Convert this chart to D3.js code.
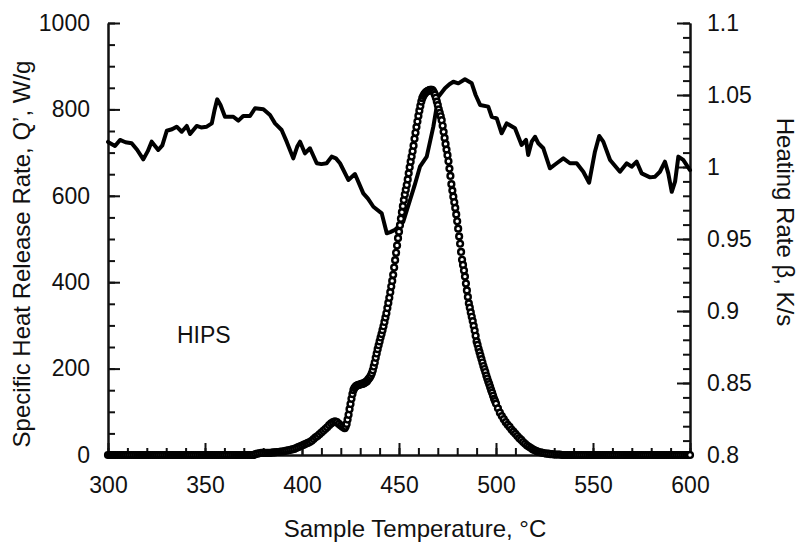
<!DOCTYPE html>
<html>
<head>
<meta charset="utf-8">
<script src="https://cdn.jsdelivr.net/npm/d3@7"></script>
<style>
  body { margin: 0; background: #fff; }
  svg text { font-family: "Liberation Sans", Arial, Helvetica, sans-serif; fill: #111; }
</style>
</head>
<body>
<div id="chart"></div>
<script>
// Tick values
const xTicks = [300, 350, 400, 450, 500, 550, 600];
const leftTicks = [0, 200, 400, 600, 800, 1000];
const rightTicks = [0.8, 0.85, 0.9, 0.95, 1, 1.05, 1.1];
const rightTickLabels = ['0.8', '0.85', '0.9', '0.95', '1', '1.05', '1.1'];

// Heating rate beta (K/s) vs sample temperature, solid line
const betaPoints = [
  [300, 1.0174], [303.6, 1.0146], [306.2, 1.0188], [309, 1.0172], [312.2, 1.0165], [315, 1.0120],
  [318.2, 1.0053], [320.5, 1.0110], [322.5, 1.0176], [325.9, 1.0118], [328, 1.0150], [330.3, 1.0252],
  [333, 1.0262], [335.4, 1.0280], [338.0, 1.0245], [340.6, 1.0285], [342.3, 1.0229], [345.7, 1.0285],
  [348, 1.0275], [350.9, 1.0280], [353.5, 1.0303], [355, 1.0400], [356.3, 1.0470], [358, 1.0430],
  [360.3, 1.0349], [364.6, 1.0349], [367.2, 1.0322], [369.7, 1.0354], [373.2, 1.0354], [375.8, 1.0408],
  [380.1, 1.0401], [383.5, 1.0361], [386.1, 1.0303], [389.5, 1.0257], [392.1, 1.0176], [395.5, 1.0060],
  [397.5, 1.0140], [399.0, 1.0176], [401.5, 1.0095], [404.1, 1.0130], [407.6, 1.0026], [410, 1.0020],
  [412.7, 1.0026], [415.3, 1.0072], [417.5, 1.0060], [419.6, 1.0026], [423.9, 0.9910], [427.3, 0.9951],
  [431.6, 0.9817], [434, 0.9780], [436.8, 0.9724], [441.1, 0.9678], [443.7, 0.9540], [445.5, 0.9548],
  [447.9, 0.9563], [452.2, 0.9620], [455.7, 0.9771], [458, 0.9870], [460.8, 1.0002], [464.3, 1.0072],
  [467.7, 1.0280], [470.3, 1.0488], [473.7, 1.0547], [476, 1.0575], [478.0, 1.0592], [480.6, 1.0581],
  [484.0, 1.0609], [487.5, 1.0581], [489.5, 1.0500], [491.8, 1.0431], [496.0, 1.0419], [497.8, 1.0349],
  [500.4, 1.0338], [502.9, 1.0234], [505.5, 1.0303], [509.8, 1.0269], [513.2, 1.0153], [515.5, 1.0188],
  [516.6, 1.0083], [518.4, 1.0176], [520.1, 1.0210], [521.8, 1.0165], [524.4, 1.0130], [527.8, 0.9991],
  [531.3, 1.0026], [534.7, 1.0060], [538.1, 1.0026], [541.6, 1.0026], [545.0, 0.9967], [548.0, 0.9891],
  [551.0, 1.0106], [553.2, 1.0215], [555.3, 1.0176], [558.8, 1.0049], [563.9, 0.9967], [567.4, 1.0026],
  [569.9, 1.0002], [572.5, 1.0037], [575.1, 0.9956], [579.4, 0.9928], [582.0, 0.9933], [584.5, 0.9967],
  [587.1, 1.0037], [588.8, 0.9956], [590.6, 0.9828], [592.3, 0.9898], [594.0, 1.0072], [596.5, 1.0049],
  [600, 0.9979]
];

// Specific heat release rate Q' (W/g) vs sample temperature, open circles
const hrrPoints = [
  [300, 0], [301, 0], [302, 0], [303, 0], [304, 0], [305, 0], [306, 0], [307, 0], [308, 0], [309, 0],
  [310, 0], [311, 0], [312, 0], [313, 0], [314, 0], [315, 0], [316, 0], [317, 0], [318, 0], [319, 0],
  [320, 0], [321, 0], [322, 0], [323, 0], [324, 0], [325, 0], [326, 0], [327, 0], [328, 0], [329, 0],
  [330, 0], [331, 0], [332, 0], [333, 0], [334, 0], [335, 0], [336, 0], [337, 0], [338, 0], [339, 0],
  [340, 0], [341, 0], [342, 0], [343, 0], [344, 0], [345, 0], [346, 0], [347, 0], [348, 0], [349, 0],
  [350, 0], [351, 0], [352, 0], [353, 0], [354, 0], [355, 0], [356, 0], [357, 0], [358, 0], [359, 0],
  [360, 0], [361, 0], [362, 0], [363, 0], [364, 0], [365, 0], [366, 0], [367, 0], [368, 0], [369, 0],
  [370, 0], [371, 0], [372, 0], [373, 0], [374, 0], [375, 0], [376, 2], [377, 3], [378, 4], [379, 5],
  [380, 5], [381, 5], [382, 5], [383, 5], [384, 5], [385, 6], [386, 6], [387, 7], [388, 7], [389, 8],
  [390, 8], [391, 9], [392, 10], [393, 11], [394, 12], [395, 13], [396, 14], [397, 16], [398, 18], [399, 20],
  [400, 22], [401, 24], [402, 26], [403, 28], [404, 30], [405, 33], [406, 37], [407, 41], [408, 44], [409, 48],
  [410, 52], [411, 56], [412, 60], [413, 64], [414, 69], [415, 73], [416, 76], [417, 78], [418, 76], [419, 72],
  [420, 68], [421, 65], [422, 62], [422.5, 66], [423, 72], [423.5, 82], [424, 93], [424.5, 106], [425, 118],
  [425.5, 130], [426, 141], [426.5, 150], [427, 155], [427.5, 158], [428, 160], [428.5, 161], [429, 162],
  [429.5, 163], [430, 163], [430.5, 164], [431, 165], [431.5, 165], [432, 166], [432.5, 168], [433, 169],
  [433.5, 171], [434, 174], [434.5, 177], [435, 180], [435.5, 184], [436, 189], [436.5, 196], [437, 205],
  [437.5, 214], [438, 225], [438.5, 235], [439, 245], [439.5, 254], [440, 263], [440.5, 272], [441, 280],
  [441.5, 289], [442, 298], [442.5, 308], [443, 318], [443.5, 328], [444, 340], [444.5, 352], [445, 364],
  [445.5, 377], [446, 390], [446.5, 403], [447, 417], [447.5, 434], [448, 451], [448.5, 468], [449, 485],
  [449.5, 502], [450, 517], [450.5, 532], [451, 547], [451.5, 562], [452, 576], [452.5, 590], [453, 603],
  [453.5, 614], [454, 625], [454.5, 638], [455, 652], [455.5, 666], [456, 679], [456.5, 691], [457, 703],
  [457.5, 716], [458, 732], [458.5, 746], [459, 759], [459.5, 772], [460, 785], [460.5, 797], [461, 808],
  [461.5, 818], [462, 826], [462.5, 831], [463, 835], [463.5, 838], [464, 840], [464.5, 842], [465, 843],
  [465.5, 844], [466, 845], [466.5, 845], [467, 845], [467.5, 843], [468, 839], [468.5, 834], [469, 827],
  [469.5, 818], [470, 810], [470.5, 800], [471, 792], [471.5, 784], [472, 775], [472.5, 762], [473, 748],
  [473.5, 734], [474, 720], [474.5, 707], [475, 694], [475.5, 680], [476, 663], [476.5, 646], [477, 627],
  [477.5, 612], [478, 598], [478.5, 585], [479, 572], [479.5, 557], [480, 541], [480.5, 524], [481, 506],
  [481.5, 489], [482, 470], [482.5, 452], [483, 440], [483.5, 427], [484, 413], [484.5, 397], [485, 381],
  [485.5, 366], [486, 351], [486.5, 341], [487, 330], [487.5, 320], [488, 310], [488.5, 299], [489, 288],
  [489.5, 276], [490, 263], [490.5, 255], [491, 246], [491.5, 238], [492, 230], [492.5, 222], [493, 214],
  [493.5, 206], [494, 199], [494.5, 192], [495, 184], [495.5, 177], [496, 170], [496.5, 164], [497, 157],
  [497.5, 150], [498, 144], [498.5, 137], [499, 130], [499.5, 125], [500, 119], [501, 108], [502, 98],
  [503, 90], [504, 83], [505, 76], [506, 70], [507, 65], [508, 59], [509, 54], [510, 49], [511, 44],
  [512, 39], [513, 35], [514, 30], [515, 26], [516, 22], [517, 19], [518, 16], [519, 13], [520, 11],
  [521, 9], [522, 7], [523, 6], [524, 5], [525, 4], [526, 3], [527, 3], [528, 2], [529, 2], [530, 1],
  [531, 1], [532, 1], [533, 1], [534, 0], [535, 0], [536, 0], [537, 0], [538, 0], [539, 0], [540, 0],
  [541, 0], [542, 0], [543, 0], [544, 0], [545, 0], [546, 0], [547, 0], [548, 0], [549, 0], [550, 0],
  [551, 0], [552, 0], [553, 0], [554, 0], [555, 0], [556, 0], [557, 0], [558, 0], [559, 0], [560, 0],
  [561, 0], [562, 0], [563, 0], [564, 0], [565, 0], [566, 0], [567, 0], [568, 0], [569, 0], [570, 0],
  [571, 0], [572, 0], [573, 0], [574, 0], [575, 0], [576, 0], [577, 0], [578, 0], [579, 0], [580, 0],
  [581, 0], [582, 0], [583, 0], [584, 0], [585, 0], [586, 0], [587, 0], [588, 0], [589, 0], [590, 0],
  [591, 0], [592, 0], [593, 0], [594, 0], [595, 0], [596, 0], [597, 0], [598, 0], [599, 0], [600, 0]
];

// Chart dimensions
const width = 801;
const height = 544;
const plot = { left: 108, right: 690, top: 23, bottom: 455 };

const svg = d3
  .select('#chart')
  .append('svg')
  .attr('width', width)
  .attr('height', height);

// Scales
const x = d3.scaleLinear().domain([300, 600]).range([plot.left, plot.right]);
const yLeft = d3.scaleLinear().domain([0, 1000]).range([plot.bottom, plot.top]);
const yRight = d3.scaleLinear().domain([0.8, 1.1]).range([plot.bottom, plot.top]);

const styleAxis = (g) => {
  g.select('.domain').attr('stroke', '#111').attr('stroke-width', 2);
  g.selectAll('.tick line').attr('stroke', '#111').attr('stroke-width', 2);
  g.selectAll('.tick text').style('font-size', '23px').attr('fill', '#111');
};

// Minor ticks
svg
  .append('g')
  .attr('transform', `translate(0, ${plot.bottom})`)
  .call(d3.axisBottom(x).ticks(30).tickSize(-7).tickSizeOuter(0).tickFormat(''))
  .call(styleAxis);
svg
  .append('g')
  .attr('transform', `translate(${plot.left}, 0)`)
  .call(d3.axisLeft(yLeft).ticks(20).tickSize(-7).tickSizeOuter(0).tickFormat(''))
  .call(styleAxis);
svg
  .append('g')
  .attr('transform', `translate(${plot.right}, 0)`)
  .call(d3.axisRight(yRight).ticks(30).tickSize(-7).tickSizeOuter(0).tickFormat(''))
  .call(styleAxis);

// Major axes
svg
  .append('g')
  .attr('id', 'x-axis')
  .attr('transform', `translate(0, ${plot.bottom})`)
  .call(d3.axisBottom(x).tickValues(xTicks).tickSize(-12).tickSizeOuter(0).tickPadding(22).tickFormat(d3.format('d')))
  .call(styleAxis);
svg
  .append('g')
  .attr('id', 'y-axis-left')
  .attr('transform', `translate(${plot.left}, 0)`)
  .call(d3.axisLeft(yLeft).tickValues(leftTicks).tickSize(-12).tickSizeOuter(0).tickPadding(18).tickFormat(d3.format('d')))
  .call(styleAxis);
svg
  .append('g')
  .attr('id', 'y-axis-right')
  .attr('transform', `translate(${plot.right}, 0)`)
  .call(
    d3
      .axisRight(yRight)
      .tickValues(rightTicks)
      .tickSize(-13)
      .tickSizeOuter(0)
      .tickPadding(17)
      .tickFormat((d, i) => rightTickLabels[i])
  )
  .call(styleAxis);

// Heating rate line
const line = d3
  .line()
  .x((d) => x(d[0]))
  .y((d) => yRight(d[1]));

svg
  .append('path')
  .datum(betaPoints)
  .attr('fill', 'none')
  .attr('stroke', '#000')
  .attr('stroke-width', 4)
  .attr('stroke-linejoin', 'round')
  .attr('stroke-linecap', 'round')
  .attr('d', line);

// Heat release rate circles
svg
  .append('g')
  .selectAll('circle')
  .data(hrrPoints)
  .enter()
  .append('circle')
  .attr('cx', (d) => x(d[0]))
  .attr('cy', (d) => yLeft(d[1]))
  .attr('r', 2.9)
  .attr('fill', '#fff')
  .attr('stroke', '#000')
  .attr('stroke-width', 2.4);

// Labels
svg
  .append('text')
  .attr('x', 415)
  .attr('y', 537)
  .attr('text-anchor', 'middle')
  .style('font-size', '24px')
  .text('Sample Temperature, °C');

svg
  .append('text')
  .attr('transform', 'translate(30, 254) rotate(-90)')
  .attr('text-anchor', 'middle')
  .style('font-size', '24px')
  .text('Specific Heat Release Rate, Q’, W/g');

svg
  .append('text')
  .attr('transform', 'translate(777, 222) rotate(90)')
  .attr('text-anchor', 'middle')
  .style('font-size', '24px')
  .text('Heating Rate β, K/s');

svg
  .append('text')
  .attr('x', 177)
  .attr('y', 343)
  .style('font-size', '23px')
  .text('HIPS');
</script>
</body>
</html>
